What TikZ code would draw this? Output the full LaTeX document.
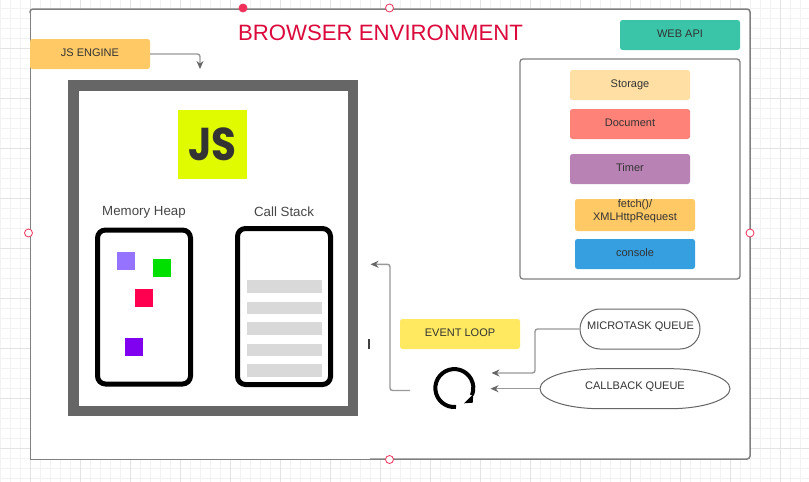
\documentclass[tikz,border=0pt]{standalone}
\usepackage{fontspec}
\usepackage{xcolor}
\setmainfont{Liberation Sans}
\newfontfamily\logofont{Poppins}
\usetikzlibrary{arrows.meta,shapes.misc}
\definecolor{textgrey}{HTML}{333333}
\definecolor{framegrey}{HTML}{808080}
\definecolor{linegrey}{HTML}{999999}
\definecolor{tipgrey}{HTML}{666666}
\definecolor{handlered}{HTML}{F0325A}
\definecolor{titlered}{HTML}{DC0A3C}
\definecolor{engineorange}{HTML}{FFC966}
\definecolor{apigreen}{HTML}{3AC4A8}
\definecolor{storagetan}{HTML}{FFDFA3}
\definecolor{documentred}{HTML}{FF8278}
\definecolor{timerpurple}{HTML}{B883B4}
\definecolor{consoleblue}{HTML}{369FE0}
\definecolor{loopyellow}{HTML}{FFE960}
\definecolor{logolime}{HTML}{E0FB00}
\definecolor{barsgrey}{HTML}{D9D9D9}
\begin{document}
\begin{tikzpicture}[x=1pt,y=-1pt,
      tag/.style={rounded corners=2.5pt,minimum width=120pt,minimum height=30pt,inner sep=0pt,
        text=textgrey,font=\fontsize{11}{13}\selectfont,text height=9pt,text depth=5pt},
      queue/.style={text=textgrey,font=\fontsize{11}{13}\selectfont,inner sep=0pt},
      handle/.style={circle,draw=handlered,fill=white,line width=0.8pt,minimum size=8pt,inner sep=0pt},
      hint/.style={text=textgrey!90,font=\fontsize{13.3}{15}\selectfont,inner sep=0pt},
      flow/.style={draw=linegrey,line width=1.4pt,rounded corners=2.5pt,
        -{Stealth[length=8pt,width=7pt,color=tipgrey]}},
      block/.style={minimum size=18pt,inner sep=0pt},
      panel/.style={draw=black,line width=5pt,rounded corners=8pt}]
      \useasboundingbox (0,0) rectangle (809,482);
      \fill[white] (0,0) rectangle (809,482);
      % grid behind the page
      \foreach \gx in {0,10,...,800} \draw[black!5,line width=0.7pt] (\gx,0) -- (\gx,482);
      \foreach \gy in {8,18,...,478} \draw[black!5,line width=0.7pt] (0,\gy) -- (809,\gy);
      \foreach \gx in {30,80,...,780} \draw[black!11,line width=0.7pt] (\gx,0) -- (\gx,482);
      \foreach \gy in {48,98,...,448} \draw[black!11,line width=0.7pt] (0,\gy) -- (809,\gy);
      % page frame
      \fill[white] (30,9) rectangle (750,459);
      \draw[framegrey,line width=1pt] (370,459) -- (30,459) -- (30,13);
      \draw[framegrey,line width=1.5pt,rounded corners=3pt] (30,13) |- (750,9) |- (370,459);
      \node[handle,fill=handlered] (topdot) at (243,8) {};
      \node[handle] (topring) at (389.5,8) {};
      \node[handle] (leftring) at (28.5,233) {};
      \node[handle] (rightring) at (750,233) {};
      \node[handle] (bottomring) at (389.5,459.5) {};
      \node[text=titlered,font=\fontsize{22.2}{26}\selectfont,inner sep=0pt] (Title) at (380.5,33) {BROWSER ENVIRONMENT};
      % engine
      \node[tag,fill=engineorange] (jsengine) at (90,54) {JS ENGINE};
      \coordinate (enginetop) at (200,69);
      \draw[flow] (jsengine.east) -| (enginetop);
      \draw[tipgrey,line width=10.5pt] (73.5,85.5) rectangle (353,411);
      \node[fill=logolime,minimum size=69pt,inner sep=0pt,text=black!80,font=\logofont\bfseries\fontsize{46}{46}\selectfont] (jslogo) at (212.5,144) {\scalebox{0.88}[1]{JS}};
      \node[hint] (heaplabel) at (144,212) {Memory Heap};
      \node[hint] (stacklabel) at (284,211.5) {Call Stack};
      \draw[panel] (97.5,230) rectangle (190.5,384);
      \draw[panel] (237.5,228.5) rectangle (330.5,384.5);
      \foreach \bx/\by/\bcol/\bname in {126.3/261/9673FF/one,162/268.3/00E000/two,144.3/298/FF0050/three,134.2/347/8000F0/four}{
        \definecolor{blockcol}{HTML}{\bcol}
        \node[block,fill=blockcol] (block\bname) at (\bx,\by) {};
      }
      \foreach \sy in {286.5,307.8,328.5,349.8,370.5}
        \fill[barsgrey] (247,\sy-6.2) rectangle (321.7,\sy+6.2);
      % web api
      \node[tag,fill=apigreen] (webapi) at (680,35) {WEB API};
      \draw[framegrey,line width=1.3pt,rounded corners=3pt] (520,59) rectangle (740,279);
      \node[tag,fill=storagetan] (storage) at (630,85) {Storage};
      \node[tag,fill=documentred] (document) at (630,124) {Document};
      \node[tag,fill=timerpurple] (timer) at (630,169) {Timer};
      \node[tag,fill=engineorange,align=center,minimum height=32pt,text height=18pt,text depth=7pt] (fetch) at (635,215) {fetch()/\\XMLHttpRequest};
      \node[tag,fill=consoleblue] (console) at (635,254) {console};
      % event loop
      \node[tag,fill=loopyellow] (eventloop) at (460,334) {EVENT LOOP};
      \draw[black,line width=4pt] (456,407) arc[start angle=85,end angle=382,radius=19];
      \fill[black] (473.3,394) -- (464,403.3) -- (472.7,402.7) -- cycle;
      \coordinate (loopout) at (410,390.5);
      \coordinate (stackin) at (370.5,264.3);
      \draw[flow] (loopout) -| (390,264.3) -- (stackin);
      \draw[black!75,line width=1.2pt] (369,339) -- (369,349);
      % queues
      \node[queue,rounded rectangle,draw=tipgrey,line width=1pt,minimum width=120pt,minimum height=40pt] (microtask) at (640,329) {};
      \node[queue] (microtasktext) at (640.5,327) {MICROTASK QUEUE};
      \draw[tipgrey,line width=1pt] (600,368.7) -- (670,368.7) arc[start angle=-90,end angle=90,x radius=60,y radius=20]
        -- (600,408.7) arc[start angle=90,end angle=270,x radius=60,y radius=20] -- cycle;
      \node[queue,minimum width=190pt,minimum height=40pt] (callback) at (635,388.7) {};
      \node[queue] (callbacktext) at (635,387) {CALLBACK QUEUE};
      \coordinate (loopupper) at (491.5,373);
      \coordinate (looplower) at (490.5,388.7);
      \draw[flow] (microtask.west) -| (535,373) -- (loopupper);
      \draw[flow] (callback.west) -- (looplower);
\end{tikzpicture}
\end{document}
